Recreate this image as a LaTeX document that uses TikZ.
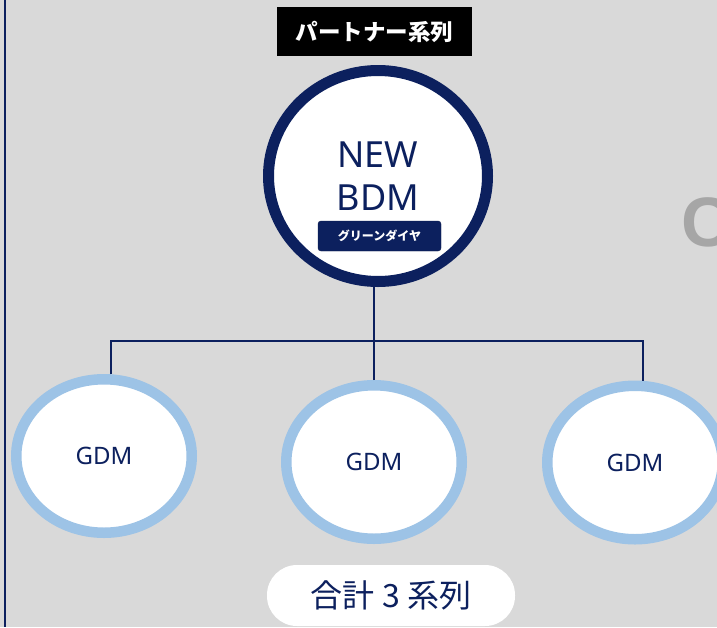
\documentclass[tikz,border=0pt]{standalone}
\usepackage{fontspec}
\setmainfont{Noto Sans}
\newfontfamily\jpfont{Noto Sans CJK JP}
\newfontfamily\markfont{Liberation Sans}
\usetikzlibrary{shapes.geometric}
\definecolor{navy}{RGB}{12,32,94}
\definecolor{paleblue}{RGB}{157,195,230}
\definecolor{bggrey}{RGB}{217,217,217}
\definecolor{markgrey}{RGB}{166,166,166}
\tikzset{
  title/.style={rectangle, fill=black, text=white, inner sep=0pt, minimum width=195pt, minimum height=49pt, font=\jpfont\bfseries\fontsize{22.5}{26}\selectfont},
  leader/.style={ellipse, draw=navy, line width=11pt, fill=white, text=navy, align=center, minimum width=219pt, minimum height=211pt, font=\fontsize{36}{43}\selectfont},
  grade/.style={rectangle, rounded corners=3pt, fill=navy, draw=navy!80!black, text=white, inner sep=0pt, minimum width=123pt, minimum height=30pt, font=\jpfont\bfseries\fontsize{12}{14}\selectfont},
  member/.style={ellipse, draw=paleblue, line width=10.5pt, fill=white, text=navy, minimum width=175.5pt, minimum height=153.5pt, font=\fontsize{24}{28}\selectfont},
  total/.style={rectangle, rounded corners=30pt, fill=white, text=navy, inner sep=0pt, minimum width=248pt, minimum height=61pt, font=\jpfont\fontsize{32}{36}\selectfont},
  link/.style={draw=navy, line width=2pt},
}
\begin{document}
\begin{tikzpicture}[x=1pt, y=-1pt]
  \useasboundingbox (0,0) rectangle (717,627);
  \clip (0,0) rectangle (717,627);
  \fill[bggrey] (0,0) rectangle (717,627);
  \draw[navy, line width=2.2pt] (5,0) -- (5,627);
  \node[anchor=base west, inner sep=0pt, text=markgrey, font=\markfont\bfseries\fontsize{70}{70}\selectfont] (mark) at (681,246) {C};

  \node[title] (series) at (374.5,31.5) {パートナー系列};
  \node[leader] (nbdm) at (378,176) {NEW\\BDM};
  \node[grade] (badge) at (379.5,236) {グリーンダイヤ};

  \node[member] (g1) at (104,456) {GDM};
  \node[member] (g2) at (374,462) {GDM};
  \node[member] (g3) at (635,462.5) {GDM};

  \coordinate (busL) at (111,341);
  \coordinate (busR) at (643,341);
  \draw[link] (busL |- g1.north) -- (busL) -- (busR) -- (busR |- g3.north);
  \draw[link] (g2.north) -- (g2.north |- nbdm.south);

  \node[total] (sum) at (391,595.5) {合計 3 系列};
\end{tikzpicture}
\end{document}
